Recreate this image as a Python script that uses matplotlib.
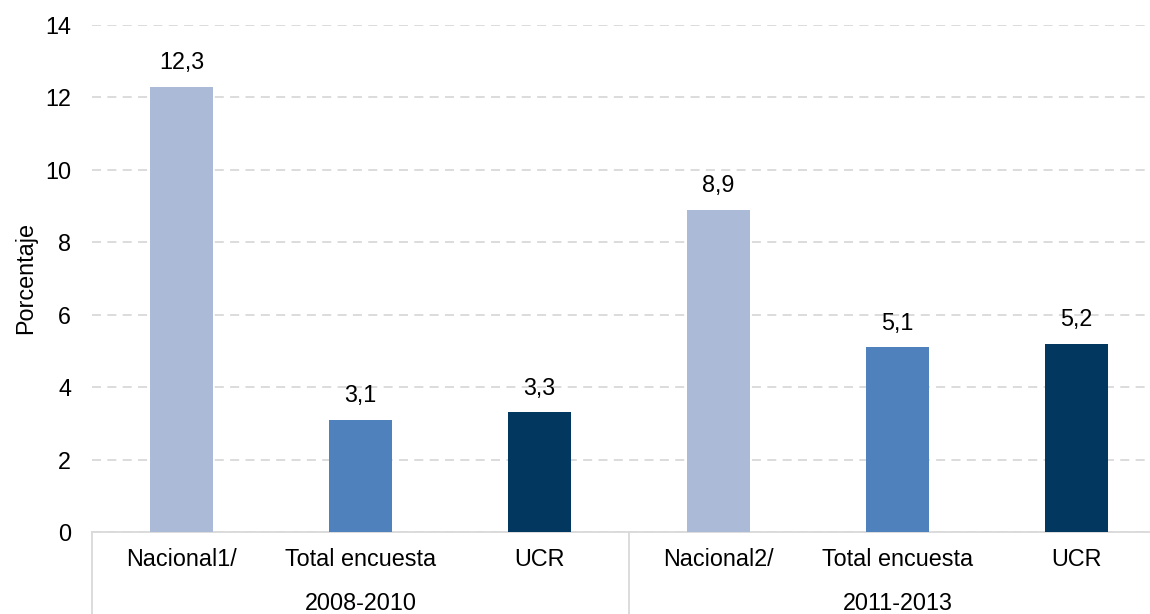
import matplotlib
matplotlib.use("Agg")
import matplotlib.pyplot as plt
from matplotlib.transforms import blended_transform_factory

plt.rcParams['font.family'] = ['Liberation Sans', 'DejaVu Sans']

categories = ["Nacional1/", "Total encuesta", "UCR", "Nacional2/", "Total encuesta", "UCR"]
groups = ["2008-2010", "2011-2013"]
values = [12.3, 3.1, 3.3, 8.9, 5.1, 5.2]
value_labels = ["12,3", "3,1", "3,3", "8,9", "5,1", "5,2"]
colors = ["#ABBAD7", "#4F81BD", "#02375F", "#ABBAD7", "#4F81BD", "#02375F"]
y_ticks = [0, 2, 4, 6, 8, 10, 12, 14]

FS = 16.8
W, H = 1150, 614
fig = plt.figure(figsize=(W / 100, H / 100), dpi=100)
left, right, bottom, top = 92, 1166, 532, 25
ax = fig.add_axes([left / W, (H - bottom) / H, (right - left) / W, (bottom - top) / H])

x = list(range(len(categories)))
bars = ax.bar(x, values, width=0.355, color=colors, zorder=3)
for xi, v, lab in zip(x, values, value_labels):
    ax.annotate(lab, (xi, v), xytext=(0, 17.5), textcoords="offset points",
                ha="center", va="center", fontsize=FS, color="#000000")

ax.set_xlim(-0.5, len(categories) - 0.5)
ax.set_ylim(0, 14)
ax.set_yticks(y_ticks)
ax.set_yticklabels([str(t) for t in y_ticks], fontsize=FS)
ax.tick_params(axis="y", length=0, pad=15)
ax.set_xticks([])
ax.yaxis.grid(True, color="#D9D9D9", linestyle=(0, (5, 3.5)), linewidth=1.3, zorder=0)
for s in ["left", "right", "top"]:
    ax.spines[s].set_visible(False)
ax.spines["bottom"].set_color("#D9D9D9")
ax.spines["bottom"].set_linewidth(1.3)
ax.set_ylabel("Porcentaje", fontsize=FS, labelpad=6)

trans = blended_transform_factory(ax.transData, ax.transAxes)
ax_h = bottom - top
cat_y = -(560 - bottom) / ax_h
grp_y = -(603 - bottom) / ax_h
for xi, c in zip(x, categories):
    ax.text(xi, cat_y, c, transform=trans, ha="center", va="center", fontsize=FS)
for gi, g in enumerate(groups):
    ax.text(gi * 3 + 1, grp_y, g, transform=trans, ha="center", va="center", fontsize=FS)
for sx in [-0.5, 2.5, 5.5]:
    ax.plot([sx, sx], [0, -(H - bottom + 5) / ax_h], transform=trans, color="#D9D9D9",
            linewidth=1.3, clip_on=False)

fig.savefig("out.png", dpi=100)
